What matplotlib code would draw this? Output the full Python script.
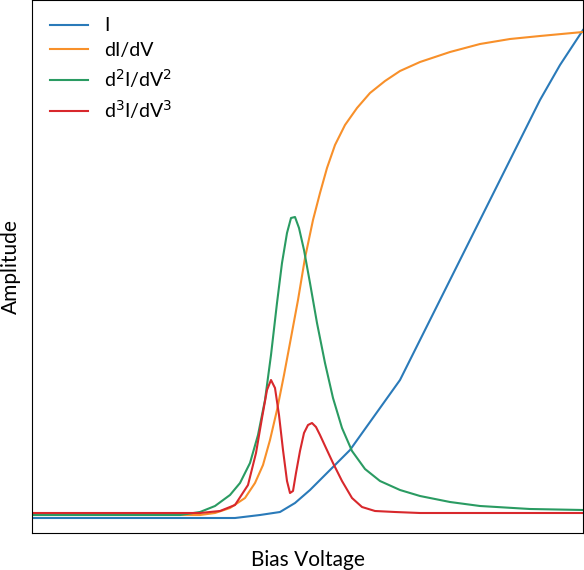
import matplotlib
matplotlib.use("Agg")
import matplotlib.pyplot as plt

plt.rcParams['font.family'] = ['Lato', 'DejaVu Sans']

x_I = [0, 100, 200, 235, 260, 280, 295, 310, 330, 350, 375, 400, 420, 440, 465, 490, 515, 540, 560, 583]
I = [15, 15, 15, 15, 18, 21, 30, 43, 63, 83, 118, 153, 193, 233, 283, 333, 383, 433, 468, 503]

x_d1 = [0, 100, 200, 215, 230, 245, 255, 263, 270, 277, 284, 290, 298, 305, 313, 320, 327, 335, 345, 357, 370, 385, 400, 420, 450, 480, 510, 540, 583]
dIdV = [18, 18, 18, 20, 25, 35, 50, 68, 93, 123, 158, 190, 233, 275, 313, 340, 365, 388, 408, 425, 440, 452, 462, 471, 481, 489, 494, 497, 501]

x_d2 = [0, 100, 180, 200, 215, 230, 240, 250, 258, 265, 271, 277, 282, 287, 291, 295, 299, 304, 310, 317, 325, 333, 342, 352, 365, 380, 400, 420, 450, 480, 530, 583]
d2 = [18, 18, 18, 21, 27, 38, 50, 70, 98, 133, 178, 230, 270, 300, 315, 316, 305, 283, 250, 210, 170, 135, 105, 82, 64, 52, 43, 37, 31, 27, 24, 23]

x_d3 = [0, 100, 200, 220, 235, 248, 256, 262, 267, 271, 275, 279, 283, 287, 290, 293, 296, 300, 304, 308, 312, 316, 320, 326, 333, 342, 352, 362, 375, 395, 420, 500, 583]
d3 = [20, 20, 20, 22, 28, 48, 80, 115, 143, 153, 145, 118, 83, 52, 40, 42, 60, 82, 100, 108, 110, 106, 98, 85, 70, 52, 35, 26, 22, 21, 20, 20, 20]

fig = plt.figure(figsize=(5.84, 5.70), dpi=100)
ax = fig.add_axes([32/584, 37/570, 551/584, 533/570])
ax.plot(x_I, I, color='#2a7ab9', lw=1.5, label='I')
ax.plot(x_d1, dIdV, color='#f8902a', lw=1.5, label='dI/dV')
ax.plot(x_d2, d2, color='#2a9b62', lw=1.5, label=r'd$^2$I/dV$^2$')
ax.plot(x_d3, d3, color='#d8282c', lw=1.5, label=r'd$^3$I/dV$^3$')
ax.set_xlim(32, 583)
ax.set_ylim(0, 533)
ax.set_xticks([])
ax.set_yticks([])
ax.set_xlabel('Bias Voltage', fontsize=15, labelpad=12)
ax.set_ylabel('Amplitude', fontsize=15, labelpad=8)
ax.legend(loc='upper left', frameon=False, fontsize=14, handlelength=2, labelspacing=0.4)
fig.savefig('out.png', dpi=100)
